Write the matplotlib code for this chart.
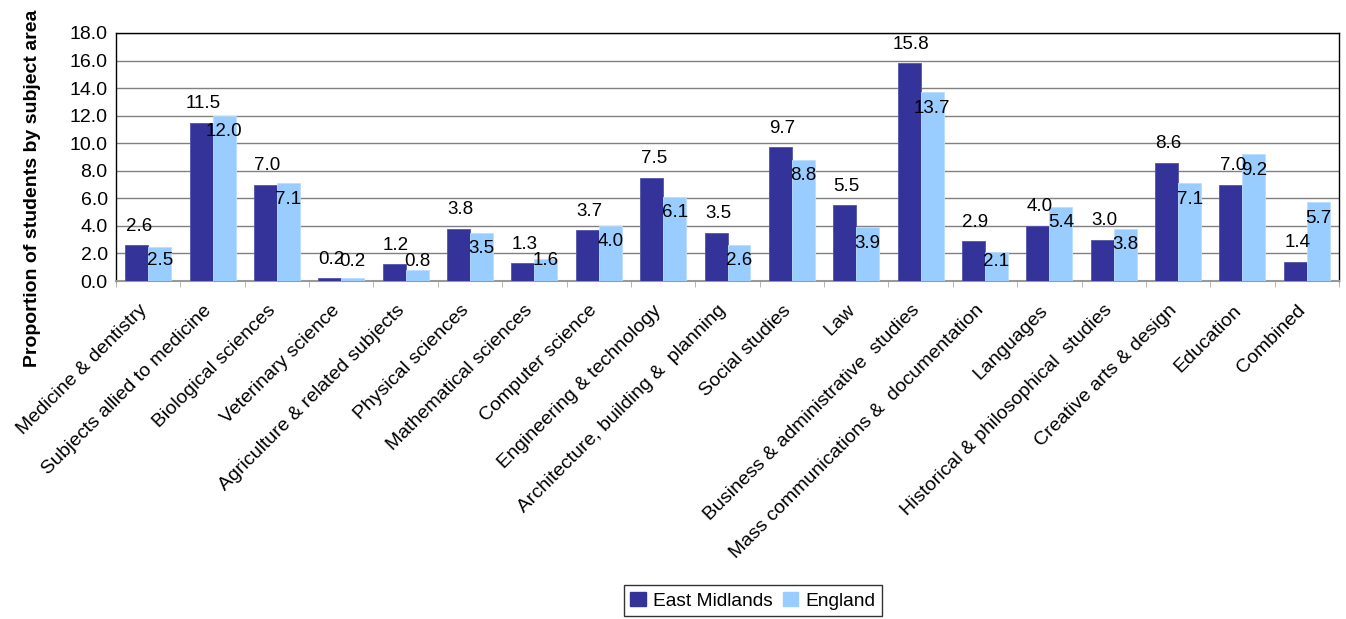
import matplotlib
matplotlib.use("Agg")
import matplotlib.pyplot as plt
import matplotlib.transforms as mtransforms
import numpy as np
from matplotlib.patches import Patch

plt.rcParams['font.family'] = ['Liberation Sans', 'DejaVu Sans']

categories = [
    "Medicine & dentistry", "Subjects allied to medicine", "Biological sciences",
    "Veterinary science", "Agriculture & related subjects", "Physical sciences",
    "Mathematical sciences", "Computer science", "Engineering & technology",
    "Architecture, building &  planning", "Social studies", "Law",
    "Business & administrative  studies", "Mass communications &  documentation",
    "Languages", "Historical & philosophical  studies", "Creative arts & design",
    "Education", "Combined",
]
east_midlands = [2.6, 11.5, 7.0, 0.2, 1.2, 3.8, 1.3, 3.7, 7.5, 3.5, 9.7, 5.5, 15.8, 2.9, 4.0, 3.0, 8.6, 7.0, 1.4]
england = [2.5, 12.0, 7.1, 0.2, 0.8, 3.5, 1.6, 4.0, 6.1, 2.6, 8.8, 3.9, 13.7, 2.1, 5.4, 3.8, 7.1, 9.2, 5.7]
series_names = ["East Midlands", "England"]
yticks = [0, 2, 4, 6, 8, 10, 12, 14, 16, 18]

c_em = "#333399"
c_en = "#99CCFF"

fig = plt.figure(figsize=(13.46, 6.19), dpi=100)
ax = fig.add_axes([116/1346, 1-281/619, (1339-116)/1346, (281-33)/619])

x = np.arange(len(categories))
w = 0.357
ax.bar(x - w/2, east_midlands, w, color=c_em, edgecolor="#5555aa", linewidth=0.6, zorder=3)
ax.bar(x + w/2, england, w, color=c_en, edgecolor="#bbddff", linewidth=0.6, zorder=3)

ax.set_xlim(-0.5, len(categories) - 0.5)
ax.set_ylim(0, 18)

# pixels per data unit (vertical)
px_per_unit = (ax.transData.transform((0, 1))[1] - ax.transData.transform((0, 0))[1])
pt = 72.0 / fig.dpi

for xi, v in zip(x, east_midlands):
    ax.annotate(f"{v:.1f}", (xi - w/2, v), xytext=(2 * pt, 19 * pt), textcoords="offset points",
                ha="center", va="center", fontsize=13.5, zorder=5)
for xi, v in zip(x, england):
    bar_px = v * px_per_unit
    center_px = max(bar_px - 16, 20)
    ax.annotate(f"{v:.1f}", (xi + w/2, v), xytext=(0, (center_px - bar_px) * pt),
                textcoords="offset points", ha="center", va="center", fontsize=13.5, zorder=5)

ax.set_yticks(yticks)
ax.set_yticklabels([f"{t:.1f}" for t in yticks], fontsize=14)
ax.yaxis.grid(True, color="#808080", linewidth=1.0, zorder=0)
ax.tick_params(axis="y", length=0, pad=6)

ax.set_xticks(x)
ax.set_xticklabels(categories, rotation=45, ha="right", rotation_mode="anchor", fontsize=14)
ax.tick_params(axis="x", length=0, pad=15)
ax.set_xticks(np.arange(-0.5, len(categories), 1.0), minor=True)
ax.tick_params(axis="x", which="minor", length=4, color="#aaaaaa", direction="out")
shift = mtransforms.ScaledTranslation(-10 / fig.dpi, 0, fig.dpi_scale_trans)
for lab in ax.get_xticklabels():
    lab.set_transform(lab.get_transform() + shift)

for s in ["left", "top", "right"]:
    ax.spines[s].set_color("black")
    ax.spines[s].set_linewidth(1.0)
ax.spines["bottom"].set_color("#999999")
ax.spines["bottom"].set_linewidth(1.5)

fig.text(33/1346, 1-188/619, "Proportion of students by subject area", rotation=90,
         ha="center", va="center", fontsize=14, fontweight="bold")

handles = [Patch(facecolor=c_em, edgecolor=c_em), Patch(facecolor=c_en, edgecolor=c_en)]
leg = fig.legend(handles, series_names, loc="upper center", bbox_to_anchor=(753/1346, 1-585/619),
                 ncol=2, fontsize=13.8, frameon=True, fancybox=False, handlelength=0.8,
                 handleheight=0.8, handletextpad=0.4, columnspacing=0.5, borderpad=0.35,
                 borderaxespad=0)
leg.get_frame().set_edgecolor("black")
leg.get_frame().set_linewidth(1.0)

fig.savefig("out.png", dpi=100)
